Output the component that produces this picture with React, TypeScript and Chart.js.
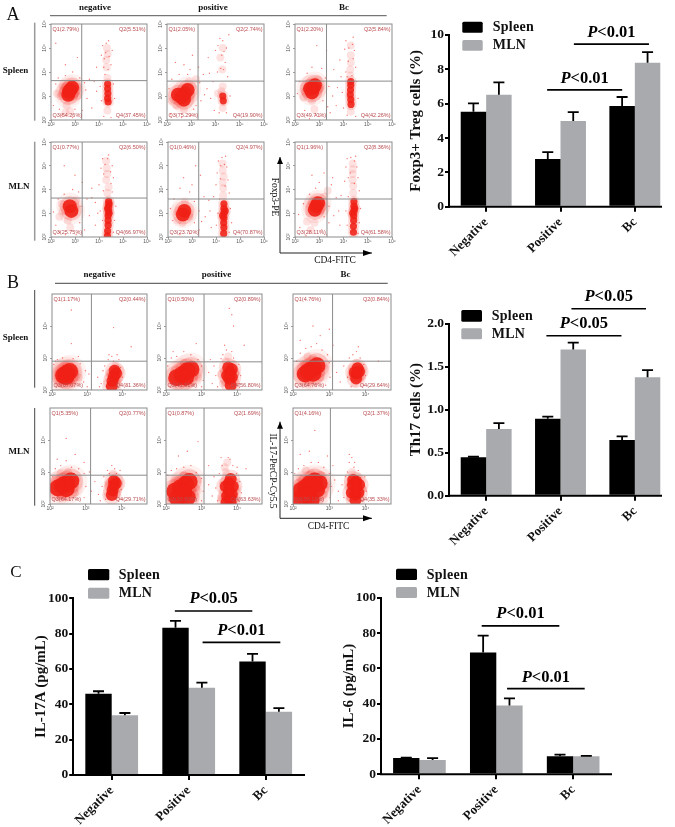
import React, { useEffect, useRef } from "react";
import { Chart, registerables } from "chart.js";
Chart.register(...registerables);

type P = [number, number];
const categories = ["Negative", "Positive", "Bc"];
const seriesNames = ["Spleen", "MLN"];

// ---- bar values and upper error caps
const tregSpleen = [5.53, 2.78, 5.86];
const tregSpleenCap = [6.02, 3.18, 6.39];
const tregMln = [6.52, 4.99, 8.39];
const tregMlnCap = [7.24, 5.51, 9.0];
const th17Spleen = [0.446, 0.895, 0.647];
const th17SpleenCap = [0.453, 0.92, 0.69];
const th17Mln = [0.775, 1.7, 1.376];
const th17MlnCap = [0.845, 1.78, 1.46];
const il17Spleen = [46, 83.4, 64.3];
const il17SpleenCap = [47.4, 87.2, 68.5];
const il17Mln = [33.8, 49.4, 35.8];
const il17MlnCap = [35.1, 52.3, 37.9];
const il6Spleen = [9.2, 68.9, 10.2];
const il6SpleenCap = [9.4, 78.5, 11.1];
const il6Mln = [8.1, 38.9, 10.2];
const il6MlnCap = [9.2, 43, 10.4];

// ---- significance brackets: category-index span, value of the line, value of the text baseline
const tregSig = [
  { p: "<0.01", from: 1.18, to: 2.19, y: 9.47, text: 9.9 },
  { p: "<0.01", from: 0.82, to: 1.83, y: 6.8, text: 7.22 },
];
const th17Sig = [
  { p: "<0.05", from: 1.147, to: 2.15, y: 2.174, text: 2.26 },
  { p: "<0.05", from: 0.81, to: 1.82, y: 1.86, text: 1.953 },
];
const il17Sig = [
  { p: "<0.05", from: 0.82, to: 1.826, y: 92.8, text: 97.1 },
  { p: "<0.01", from: 1.18, to: 2.19, y: 75.1, text: 79.2 },
];
const il6Sig = [
  { p: "<0.01", from: 0.81, to: 1.82, y: 84.1, text: 88.3 },
  { p: "<0.01", from: 1.14, to: 2.15, y: 48.5, text: 52.4 },
];

// ---- flow-cytometry quadrant percentages
const quadA = [
  ["Q1(2.79%)", "Q2(5.51%)", "Q3(54.26%)", "Q4(37.45%)"],
  ["Q1(2.05%)", "Q2(2.74%)", "Q3(75.29%)", "Q4(19.90%)"],
  ["Q1(2.20%)", "Q2(5.84%)", "Q3(49.70%)", "Q4(42.26%)"],
  ["Q1(0.77%)", "Q2(6.50%)", "Q3(25.75%)", "Q4(66.97%)"],
  ["Q1(0.46%)", "Q2(4.97%)", "Q3(23.70%)", "Q4(70.87%)"],
  ["Q1(1.96%)", "Q2(8.36%)", "Q3(28.11%)", "Q4(61.58%)"],
];
const quadB = [
  ["Q1(1.17%)", "Q2(0.44%)", "Q3(67.07%)", "Q4(31.36%)"],
  ["Q1(0.50%)", "Q2(0.89%)", "Q3(41.81%)", "Q4(56.80%)"],
  ["Q1(4.76%)", "Q2(0.84%)", "Q3(64.76%)", "Q4(29.64%)"],
  ["Q1(5.35%)", "Q2(0.77%)", "Q3(64.17%)", "Q4(29.71%)"],
  ["Q1(0.87%)", "Q2(1.69%)", "Q3(33.80%)", "Q4(63.63%)"],
  ["Q1(4.16%)", "Q2(1.37%)", "Q3(59.12%)", "Q4(35.33%)"],
];
// gate positions, log10 units [x, y]
const gatesA: P[] = [[3.28, 3.64], [3.28, 3.62], [3.3, 3.62], [3.3, 3.64], [3.28, 3.6], [3.32, 3.6]];
const gatesB: P[] = [[3.12, 2.9], [3.07, 2.88], [3.09, 2.9], [3.13, 2.9], [3.07, 2.9], [3.03, 2.9]];

// ---- events, log10 units: solid core, narrow column, soft haze, lone events
const a1Core: P[] = [[2.8, 3.25], [2.72, 3.05], [2.88, 3.35], [2.75, 3.18]];
const a1Band: P[] = [[4.36, 3.5], [4.36, 3.3], [4.37, 3.1], [4.36, 2.9], [4.38, 2.75]];
const a1Haze: P[] = [[2.4, 3.0], [2.65, 2.6], [3.1, 3.4], [2.5, 3.4], [2.8, 2.35], [4.35, 2.4], [4.35, 3.75], [4.3, 4.5], [4.33, 5.0], [3.1, 3.0], [2.25, 3.1], [4.32, 4.2], [4.36, 4.75], [2.6, 2.3]];
const a1Dots: P[] = [[2.1, 2.6], [2.2, 3.5], [2.3, 3.75], [2.45, 2.2], [2.6, 3.85], [2.9, 4.0], [3.2, 3.75], [3.4, 3.55], [3.6, 3.7], [3.8, 3.6], [3.9, 3.2], [3.5, 2.9], [3.7, 2.5], [3.3, 2.4], [2.9, 2.1], [2.6, 4.3], [2.2, 5.2], [3.1, 4.6], [3.9, 4.2], [4.1, 4.7], [4.2, 4.2], [4.15, 5.1], [4.5, 4.3], [4.55, 4.9], [4.4, 5.3], [4.25, 3.9], [4.6, 3.5], [4.1, 2.8], [4.65, 2.9], [4.5, 2.1], [4.2, 2.15], [4.28, 4.8], [4.38, 4.1], [4.42, 4.65], [4.22, 4.55], [4.3, 5.2], [3.0, 2.45], [2.35, 2.45], [3.45, 3.25], [4.05, 3.4]];
const a2Core: P[] = [[2.74, 3.1], [2.6, 2.95], [2.85, 3.25], [2.7, 2.85], [2.45, 3.05]];
const a2Band: P[] = [[4.3, 3.0], [4.32, 2.8]];
const a2Haze: P[] = [[2.3, 3.0], [3.05, 3.4], [2.7, 2.45], [2.4, 2.6], [3.2, 3.7], [4.3, 3.4], [4.3, 2.5], [4.2, 4.6], [4.25, 3.2], [2.9, 3.6], [2.2, 2.8], [4.1, 3.1], [4.28, 4.1], [4.3, 5.0]];
const a2Dots: P[] = [[2.08, 3.3], [2.2, 3.7], [2.5, 3.9], [2.7, 4.3], [2.95, 4.1], [3.3, 4.2], [3.5, 3.9], [3.65, 3.3], [3.4, 2.8], [3.8, 2.9], [3.9, 3.6], [3.2, 2.6], [3.0, 2.2], [2.6, 2.1], [3.05, 4.7], [2.35, 4.4], [3.7, 4.6], [4.0, 4.9], [4.1, 5.1], [4.3, 5.3], [4.35, 4.85], [4.22, 4.15], [4.4, 4.4], [4.45, 5.0], [4.55, 5.55], [4.5, 3.8], [4.6, 3.0], [4.45, 2.3], [4.15, 2.3], [3.95, 2.4], [4.08, 4.0], [4.26, 4.7], [4.33, 4.1], [3.55, 3.05], [3.35, 3.55], [3.1, 2.45], [2.15, 2.25], [2.85, 3.9], [4.18, 5.4], [3.75, 3.95]];
const a3Core: P[] = [[2.76, 3.35], [2.7, 3.15], [2.82, 3.45], [2.62, 3.3]];
const a3Band: P[] = [[4.3, 3.45], [4.29, 3.25], [4.28, 3.05], [4.3, 2.85], [4.31, 2.65], [4.3, 3.6]];
const a3Haze: P[] = [[2.4, 3.2], [2.7, 2.8], [3.0, 3.3], [2.8, 2.45], [2.95, 3.7], [4.3, 2.35], [4.28, 4.1], [4.3, 4.7], [4.3, 5.1], [2.35, 2.95], [4.3, 4.4], [4.28, 3.85]];
const a3Dots: P[] = [[2.1, 3.1], [2.2, 3.6], [2.4, 2.4], [2.5, 3.95], [2.7, 4.2], [3.1, 4.15], [3.25, 3.75], [3.4, 3.4], [3.55, 3.0], [3.7, 2.6], [3.45, 2.3], [3.15, 2.8], [3.0, 2.15], [2.6, 2.05], [3.6, 4.1], [3.85, 4.5], [3.9, 3.8], [3.95, 3.15], [4.0, 2.5], [4.05, 4.95], [4.1, 5.3], [4.2, 4.45], [4.4, 5.45], [4.45, 4.9], [4.5, 4.2], [4.55, 3.6], [4.6, 2.9], [4.5, 2.15], [4.15, 2.2], [4.4, 4.55], [4.22, 5.0], [4.37, 5.15], [4.35, 3.85], [4.15, 3.8], [3.3, 4.9], [2.9, 5.1], [2.85, 2.2], [3.75, 3.35], [3.35, 2.55], [4.1, 4.0]];
const a4Core: P[] = [[2.78, 3.3], [2.85, 3.1]];
const a4Band: P[] = [[4.4, 3.5], [4.4, 3.3], [4.4, 3.1], [4.38, 2.9], [4.38, 2.7], [4.38, 2.5], [4.36, 2.25], [4.42, 3.4], [4.42, 3.0], [4.36, 3.2], [4.35, 2.05]];
const a4Haze: P[] = [[2.5, 3.1], [2.7, 2.7], [3.0, 3.2], [2.45, 3.4], [2.8, 2.4], [3.05, 3.55], [2.35, 2.85], [4.35, 3.85], [4.3, 4.4], [4.32, 4.9], [4.3, 5.2], [4.4, 4.1], [4.34, 4.65]];
const a4Dots: P[] = [[2.1, 3.05], [2.2, 2.5], [2.3, 3.6], [2.55, 3.8], [2.9, 4.0], [3.15, 3.9], [3.25, 3.3], [3.5, 3.6], [3.7, 3.65], [3.85, 3.45], [3.6, 2.9], [3.85, 2.5], [3.4, 2.3], [3.05, 2.1], [2.6, 2.1], [2.55, 5.0], [3.0, 4.6], [3.3, 4.3], [3.7, 4.05], [4.0, 4.2], [4.08, 4.9], [4.15, 5.3], [4.4, 5.45], [4.55, 5.0], [4.6, 4.5], [4.2, 4.65], [4.48, 4.75], [4.55, 3.9], [4.7, 3.3], [4.65, 2.7], [4.6, 2.2], [4.15, 2.7], [4.05, 3.1], [4.5, 4.25], [4.18, 3.95], [4.36, 5.3], [3.2, 2.6], [3.95, 3.0], [4.25, 5.05], [2.35, 2.2]];
const a5Core: P[] = [[2.68, 3.1], [2.62, 2.95]];
const a5Band: P[] = [[4.33, 3.4], [4.33, 3.2], [4.33, 3.0], [4.33, 2.8], [4.32, 2.6], [4.33, 2.4], [4.32, 2.15], [4.38, 3.1], [4.28, 2.9]];
const a5Haze: P[] = [[2.45, 3.0], [2.8, 3.2], [2.6, 2.6], [2.9, 2.85], [2.4, 2.7], [2.7, 3.45], [4.3, 3.75], [4.28, 4.3], [4.28, 4.8], [4.27, 5.1], [4.32, 4.55], [4.3, 4.05]];
const a5Dots: P[] = [[2.1, 3.2], [2.2, 2.7], [2.25, 3.6], [2.5, 4.05], [2.9, 3.9], [3.1, 3.5], [3.1, 2.6], [3.3, 3.1], [3.5, 3.7], [3.7, 3.55], [3.9, 3.7], [3.55, 2.85], [3.8, 2.4], [3.3, 2.3], [2.9, 2.15], [2.5, 2.1], [2.65, 4.5], [3.0, 4.2], [3.35, 4.6], [3.15, 5.0], [4.0, 4.2], [4.05, 4.7], [4.1, 5.2], [4.18, 4.45], [4.4, 5.4], [4.45, 4.95], [4.5, 4.4], [4.55, 3.85], [4.6, 3.2], [4.65, 2.6], [4.55, 2.2], [4.08, 3.0], [4.02, 2.5], [4.15, 3.6], [4.25, 5.35], [4.35, 5.05], [4.38, 4.15], [4.2, 5.0], [3.75, 3.1], [3.4, 2.65]];
const a6Core: P[] = [[2.88, 3.3], [2.82, 3.15], [2.95, 3.42]];
const a6Band: P[] = [[4.43, 3.5], [4.43, 3.3], [4.43, 3.1], [4.42, 2.9], [4.42, 2.7], [4.41, 2.45], [4.41, 2.2], [4.46, 3.2], [4.38, 3.0]];
const a6Haze: P[] = [[2.6, 3.0], [2.8, 2.6], [3.1, 3.4], [2.5, 2.65], [2.65, 2.3], [3.2, 3.7], [3.05, 3.1], [4.4, 3.85], [4.38, 4.4], [4.38, 4.85], [4.38, 5.1], [3.35, 3.95], [4.4, 4.15], [4.38, 4.65]];
const a6Dots: P[] = [[2.15, 2.95], [2.2, 2.4], [2.35, 3.4], [2.45, 2.05], [2.6, 3.8], [2.85, 4.05], [3.0, 4.3], [3.1, 2.3], [3.2, 2.85], [3.4, 3.3], [3.5, 4.2], [3.7, 3.65], [3.9, 3.75], [3.6, 2.9], [3.85, 2.5], [3.3, 2.1], [3.2, 4.7], [2.7, 4.6], [3.55, 4.5], [4.05, 4.35], [4.1, 4.95], [4.15, 5.3], [4.2, 4.5], [4.5, 5.4], [4.55, 4.95], [4.6, 4.5], [4.65, 3.95], [4.7, 3.2], [4.65, 2.6], [4.6, 2.15], [4.1, 3.1], [4.15, 2.5], [4.2, 3.7], [4.3, 5.35], [4.45, 5.2], [4.45, 4.25], [4.28, 4.7], [3.8, 3.1], [3.4, 2.6], [2.95, 2.0]];

const b1Core: P[] = [[2.42, 2.52], [2.33, 2.45], [2.5, 2.58], [2.4, 2.42]];
const b1Band: P[] = [[3.78, 2.6], [3.76, 2.42], [3.72, 2.28], [3.82, 2.52], [3.7, 2.12]];
const b1Haze: P[] = [[2.2, 2.5], [2.65, 2.55], [2.4, 2.78], [2.55, 2.25], [2.2, 2.2], [3.65, 2.45], [3.8, 2.75], [2.75, 2.4], [3.85, 2.25]];
const b1Dots: P[] = [[2.05, 2.8], [2.15, 2.95], [2.3, 3.0], [2.6, 2.98], [2.8, 2.82], [2.95, 2.6], [2.9, 2.25], [3.0, 2.1], [3.05, 2.5], [3.3, 2.4], [3.45, 2.6], [3.4, 2.2], [3.5, 2.75], [3.6, 2.95], [3.7, 3.05], [3.75, 2.9], [3.85, 3.1], [3.62, 3.1], [3.95, 2.7], [4.0, 2.4], [4.1, 2.15], [3.55, 2.12], [2.55, 4.5], [3.75, 3.95], [2.55, 3.45], [4.25, 3.35], [2.1, 2.9], [2.75, 3.05], [3.35, 2.1], [3.9, 2.95]];
const b2Core: P[] = [[2.6, 2.6], [2.45, 2.48], [2.7, 2.65], [2.3, 2.38], [2.55, 2.4]];
const b2Band: P[] = [[3.8, 2.55], [3.78, 2.35], [3.82, 2.15], [3.72, 2.45], [3.85, 2.4], [3.75, 2.7], [3.85, 2.65]];
const b2Haze: P[] = [[2.15, 2.3], [2.8, 2.6], [2.5, 2.85], [2.9, 2.4], [2.7, 2.2], [3.55, 2.5], [3.68, 2.9], [3.75, 3.05], [3.95, 2.5], [3.6, 2.2]];
const b2Dots: P[] = [[2.05, 2.75], [2.15, 3.0], [2.3, 3.05], [2.5, 3.2], [2.7, 3.1], [2.9, 2.95], [3.0, 2.75], [3.05, 2.3], [3.0, 2.1], [3.2, 2.55], [3.3, 2.2], [3.35, 2.75], [3.4, 2.45], [3.45, 2.1], [3.55, 2.98], [3.6, 3.1], [3.7, 3.25], [3.85, 3.2], [3.9, 3.0], [4.05, 2.8], [4.1, 2.45], [4.05, 2.2], [3.78, 4.55], [3.85, 4.35], [3.9, 4.0], [2.85, 3.45], [4.2, 3.4], [3.65, 3.4], [3.25, 2.95], [2.2, 3.2]];
const b3Core: P[] = [[2.56, 2.68], [2.42, 2.58], [2.66, 2.76], [2.34, 2.5], [2.55, 2.52]];
const b3Band: P[] = [[3.78, 2.68], [3.76, 2.52], [3.74, 2.36], [3.82, 2.58], [3.7, 2.55]];
const b3Haze: P[] = [[2.2, 2.45], [2.85, 2.75], [2.55, 3.0], [2.75, 2.4], [2.3, 2.8], [2.4, 3.05], [3.65, 2.4], [3.75, 2.85], [3.7, 2.2], [3.85, 2.35]];
const b3Dots: P[] = [[2.08, 2.2], [2.1, 2.9], [2.2, 3.15], [2.35, 3.3], [2.5, 3.35], [2.65, 3.45], [2.8, 3.25], [2.95, 3.1], [3.0, 2.85], [3.02, 2.4], [2.9, 2.15], [3.2, 2.55], [3.3, 2.25], [3.4, 2.75], [3.5, 2.4], [3.55, 3.0], [3.65, 3.1], [3.75, 3.2], [3.85, 3.0], [3.95, 2.8], [4.0, 2.45], [3.95, 2.15], [2.55, 4.0], [3.0, 3.9], [2.2, 3.55], [2.75, 3.7], [3.1, 3.4], [3.6, 2.1], [3.8, 3.35], [4.35, 2.9]];
const b4Core: P[] = [[2.47, 2.65], [2.35, 2.58], [2.58, 2.72], [2.45, 2.48], [2.22, 2.5]];
const b4Band: P[] = [[3.78, 2.72], [3.78, 2.58], [3.74, 2.42], [3.72, 2.28], [3.83, 2.65]];
const b4Haze: P[] = [[2.1, 2.5], [2.75, 2.8], [2.5, 3.0], [2.7, 2.35], [2.3, 2.25], [2.3, 2.95], [3.6, 2.6], [3.75, 2.95], [3.85, 2.3], [3.6, 2.25]];
const b4Dots: P[] = [[2.08, 2.85], [2.15, 3.1], [2.3, 3.2], [2.45, 3.35], [2.6, 3.15], [2.8, 3.1], [2.95, 2.95], [3.0, 2.55], [2.95, 2.2], [3.15, 2.4], [3.25, 2.7], [3.35, 2.3], [3.45, 2.55], [3.5, 2.85], [3.6, 3.05], [3.72, 3.2], [3.8, 3.1], [3.92, 2.8], [3.98, 2.45], [4.0, 2.15], [2.45, 4.05], [2.7, 3.55], [3.4, 2.1], [3.55, 2.15], [2.2, 3.4], [3.85, 2.95], [3.65, 2.95], [3.1, 3.0], [3.95, 3.05], [2.95, 3.3]];
const b5Core: P[] = [[2.55, 2.62], [2.4, 2.5], [2.65, 2.7], [2.25, 2.4], [2.5, 2.35], [2.32, 2.18], [2.6, 2.2]];
const b5Band: P[] = [[3.77, 2.65], [3.77, 2.42], [3.8, 2.2], [3.68, 2.55], [3.88, 2.55], [3.72, 2.25], [3.85, 2.3], [3.82, 2.78], [3.7, 2.05], [3.82, 2.05]];
const b5Haze: P[] = [[2.85, 2.5], [2.8, 2.25], [2.5, 2.9], [2.25, 2.75], [3.6, 2.6], [3.68, 3.0], [3.65, 3.15], [3.72, 3.3], [3.55, 2.2], [4.0, 2.5], [2.9, 2.75]];
const b5Dots: P[] = [[2.05, 2.9], [2.15, 3.05], [2.3, 3.1], [2.5, 3.15], [2.7, 3.2], [2.85, 2.98], [3.0, 2.8], [3.05, 2.4], [3.0, 2.1], [3.2, 2.6], [3.3, 2.25], [3.35, 2.85], [3.4, 2.5], [3.45, 2.1], [3.5, 2.95], [3.58, 3.2], [3.8, 3.4], [3.88, 3.2], [3.98, 2.95], [4.08, 2.7], [4.12, 2.35], [4.05, 2.1], [2.9, 3.95], [2.35, 3.5], [2.6, 3.65], [3.2, 3.2], [3.55, 3.45], [4.25, 3.1], [3.75, 3.45], [4.0, 3.15]];
const b6Core: P[] = [[2.47, 2.65], [2.35, 2.52], [2.6, 2.72], [2.22, 2.42], [2.42, 2.3], [2.65, 2.45], [2.2, 2.15], [2.5, 2.12], [2.72, 2.65]];
const b6Band: P[] = [[3.74, 2.7], [3.74, 2.5], [3.72, 2.3], [3.65, 2.6], [3.82, 2.6], [3.62, 2.35], [3.8, 2.35], [3.72, 2.12], [3.66, 2.75]];
const b6Haze: P[] = [[2.9, 2.6], [2.85, 2.3], [2.5, 2.98], [2.2, 2.8], [2.78, 2.9], [3.55, 2.55], [3.62, 3.0], [3.58, 2.2], [3.92, 2.5], [2.35, 3.05]];
const b6Dots: P[] = [[2.05, 2.95], [2.15, 3.1], [2.3, 3.2], [2.5, 3.3], [2.7, 3.3], [2.85, 3.15], [3.0, 2.95], [3.05, 2.55], [3.02, 2.2], [3.15, 2.75], [3.25, 2.4], [3.35, 2.6], [3.4, 2.2], [3.45, 2.85], [3.5, 3.0], [3.55, 3.3], [3.62, 3.45], [3.7, 3.3], [3.8, 3.05], [3.98, 2.85], [4.02, 2.4], [3.95, 2.12], [2.6, 4.3], [2.95, 3.5], [2.2, 3.55], [3.55, 3.55], [3.25, 2.1], [3.68, 3.15], [3.1, 3.2], [2.45, 3.65]];

const coresA = [a1Core, a2Core, a3Core, a4Core, a5Core, a6Core];
const bandsA = [a1Band, a2Band, a3Band, a4Band, a5Band, a6Band];
const hazesA = [a1Haze, a2Haze, a3Haze, a4Haze, a5Haze, a6Haze];
const dotsA = [a1Dots, a2Dots, a3Dots, a4Dots, a5Dots, a6Dots];
const coresB = [b1Core, b2Core, b3Core, b4Core, b5Core, b6Core];
const bandsB = [b1Band, b2Band, b3Band, b4Band, b5Band, b6Band];
const hazesB = [b1Haze, b2Haze, b3Haze, b4Haze, b5Haze, b6Haze];
const dotsB = [b1Dots, b2Dots, b3Dots, b4Dots, b5Dots, b6Dots];
const decadesA = [2, 3, 4, 5, 6];
const decadesBx = [2, 3, 4];
const decadesBy = [2, 3, 4];

const SERIF = "'Liberation Serif'";
const SANS = "'Liberation Sans'";
const SUP: Record<number, string> = { 2: "10\u00b2", 3: "10\u00b3", 4: "10\u2074", 5: "10\u2075", 6: "10\u2076" };

function zeroPad(s: any) {
  s.paddingLeft = s.paddingRight = s.paddingTop = s.paddingBottom = 0;
}

function FrameChart({ make, box, blur }: { make: (c: HTMLCanvasElement) => Chart; box: number[]; blur?: number }) {
  const ref = useRef<HTMLCanvasElement>(null);
  useEffect(() => {
    const ch = make(ref.current!);
    return () => ch.destroy();
  }, []);
  return (
    <canvas
      ref={ref}
      width={box[2]}
      height={box[3]}
      style={{ position: "absolute", left: box[0], top: box[1], width: box[2], height: box[3], filter: blur ? `blur(${blur}px)` : undefined }}
    />
  );
}

function barConfig(o: any) {
  const { frame, area, spleen, spleenCap, mln, mlnCap, sig, yMax, step, title, titleX, axisEnd, legend, fmt } = o;
  const [fl, ft, fw, fh] = frame;
  const overlay = {
    id: "overlay",
    afterDatasetsDraw(chart: any) {
      const ctx = chart.ctx;
      const ys = chart.scales.y;
      const xs = chart.scales.x;
      ctx.save();
      ctx.strokeStyle = "#000";
      ctx.fillStyle = "#000";
      // error bars
      [spleenCap, mlnCap].forEach((caps: number[], d: number) => {
        chart.getDatasetMeta(d).data.forEach((bar: any, i: number) => {
          const y = ys.getPixelForValue(caps[i]);
          ctx.lineWidth = 1.8;
          ctx.beginPath();
          ctx.moveTo(bar.x, bar.y);
          ctx.lineTo(bar.x, y);
          ctx.moveTo(bar.x - 5.5, y);
          ctx.lineTo(bar.x + 5.5, y);
          ctx.stroke();
        });
      });
      // x axis line
      ctx.lineWidth = 2;
      ctx.beginPath();
      ctx.moveTo(chart.chartArea.left - 1, ys.getPixelForValue(0));
      ctx.lineTo(axisEnd - fl, ys.getPixelForValue(0));
      ctx.stroke();
      // brackets
      const unit = xs.getPixelForValue(1) - xs.getPixelForValue(0);
      const px = (v: number) => xs.getPixelForValue(0) + v * unit;
      sig.forEach((s: any) => {
        const y = ys.getPixelForValue(s.y);
        ctx.lineWidth = 1.7;
        ctx.beginPath();
        ctx.moveTo(px(s.from), y);
        ctx.lineTo(px(s.to), y);
        ctx.stroke();
        const it = `italic bold 16.5px ${SERIF}`;
        const bd = `bold 16.5px ${SERIF}`;
        ctx.font = it;
        const w1 = ctx.measureText("P").width;
        ctx.font = bd;
        const w2 = ctx.measureText(s.p).width;
        const cx = (px(s.from) + px(s.to)) / 2 - (w1 + w2) / 2;
        const ty = ys.getPixelForValue(s.text);
        ctx.textAlign = "left";
        ctx.textBaseline = "alphabetic";
        ctx.font = it;
        ctx.fillText("P", cx, ty);
        ctx.font = bd;
        ctx.fillText(s.p, cx + w1, ty);
      });
      // legend
      ctx.font = `bold 14px ${SERIF}`;
      (ctx as any).letterSpacing = "0.3px";
      ctx.textBaseline = "middle";
      chart.data.datasets.forEach((d: any, i: number) => {
        const [bx, by, bw, bh, tx, ty] = legend[i];
        ctx.fillStyle = d.backgroundColor;
        ctx.beginPath();
        ctx.roundRect(bx - fl, by - ft, bw, bh, 1.5);
        ctx.fill();
        ctx.fillStyle = "#111";
        ctx.fillText(d.label, tx - fl, ty - ft);
      });
      ctx.restore();
    },
  };
  return {
    type: "bar",
    data: {
      labels: categories,
      datasets: [
        { label: seriesNames[0], data: spleen, backgroundColor: "#000000", categoryPercentage: 0.685, barPercentage: 1 },
        { label: seriesNames[1], data: mln, backgroundColor: "#a9aaae", categoryPercentage: 0.685, barPercentage: 1 },
      ],
    },
    plugins: [overlay],
    options: {
      animation: false,
      responsive: false,
      devicePixelRatio: 1,
      layout: { padding: { left: 0, top: area[1] - ft, right: fl + fw - area[2], bottom: 0 } },
      plugins: { legend: { display: false }, tooltip: { enabled: false } },
      scales: {
        x: {
          grid: { display: true, drawOnChartArea: false, drawTicks: true, offset: false, tickLength: 5, lineWidth: 2, color: "#000" },
          border: { display: false },
          ticks: { color: "#111", maxRotation: 45, minRotation: 45, padding: 3, font: { family: SERIF, weight: "bold", size: 13 } },
          afterFit(s: any) {
            s.height = ft + fh - area[3];
            zeroPad(s);
          },
        },
        y: {
          min: 0,
          max: yMax,
          grid: { display: true, drawOnChartArea: false, drawTicks: true, tickLength: 4, lineWidth: 2, color: "#000" },
          border: { display: true, color: "#000", width: 2 },
          ticks: { stepSize: step, color: "#111", padding: 1, callback: fmt, font: { family: SERIF, weight: "bold", size: 13.5 } },
          title: { display: true, text: title, color: "#111", padding: { top: titleX - fl - 9, bottom: 0 }, font: { family: SERIF, weight: "bold", size: 15 } },
          afterFit(s: any) {
            s.width = area[0] - fl;
            zeroPad(s);
          },
        },
      },
    },
  } as any;
}

function dotConfig(o: any) {
  const { frame, plot, xMax, yMax, xTicks, yTicks, gate, core, band, haze, dots, quad, coreR, bandR } = o;
  const [fl, ft, fw, fh] = frame;
  const [pl, pt, pr, pb] = plot;
  const overlay = {
    id: "overlay",
    afterDatasetsDraw(chart: any) {
      const ctx = chart.ctx;
      const a = chart.chartArea;
      ctx.save();
      ctx.strokeStyle = "#8b8b8b";
      ctx.lineWidth = 1;
      ctx.strokeRect(a.left, a.top, a.right - a.left, a.bottom - a.top);
      ctx.fillStyle = "#b94a4e";
      ctx.font = `5.5px ${SANS}`;
      ctx.textBaseline = "middle";
      ctx.textAlign = "left";
      ctx.fillText(quad[0], a.left + 1.5, a.top + 5.5);
      ctx.fillText(quad[2], a.left + 1.5, a.bottom - 4.5);
      ctx.textAlign = "right";
      ctx.fillText(quad[1], a.right - 1.5, a.top + 5.5);
      ctx.fillText(quad[3], a.right - 1.5, a.bottom - 4.5);
      ctx.fillStyle = "#555";
      ctx.textAlign = "center";
      ctx.font = `5px ${SANS}`;
      chart.scales.y.ticks.forEach((t: any) => {
        const y = chart.scales.y.getPixelForValue(t.value);
        ctx.save();
        ctx.translate(a.left - 6, y);
        ctx.rotate(-Math.PI / 2);
        ctx.fillText(SUP[t.value], 0, 0);
        ctx.restore();
      });
      ctx.restore();
    },
  };
  const red = (al: number) => `rgba(240,32,22,${al})`;
  const pts = (d: P[]) => d.map(([x, y]) => ({ x, y }));
  return {
    type: "scatter",
    data: {
      datasets: [
        { label: "gate x", data: [{ x: gate[0], y: 2 }, { x: gate[0], y: yMax }], showLine: true, pointRadius: 0, borderColor: "#8b8b8b", borderWidth: 1 },
        { label: "gate y", data: [{ x: 2, y: gate[1] }, { x: xMax, y: gate[1] }], showLine: true, pointRadius: 0, borderColor: "#8b8b8b", borderWidth: 1 },
        { label: "dots", data: pts(dots), pointRadius: 0.7, backgroundColor: red(0.6), borderWidth: 0 },
        { label: "core", data: pts(core), pointRadius: coreR, backgroundColor: red(0.9), borderWidth: 0 },
        { label: "band", data: pts(band), pointRadius: bandR, backgroundColor: red(0.88), borderWidth: 0 },
        { label: "core glow", data: pts(core), pointRadius: coreR * 1.45, backgroundColor: red(0.16), borderWidth: 0 },
        { label: "band glow", data: pts(band), pointRadius: bandR * 1.6, backgroundColor: red(0.14), borderWidth: 0 },
        { label: "core wide", data: pts(core), pointRadius: coreR * 1.95, backgroundColor: red(0.06), borderWidth: 0 },
        { label: "haze", data: pts(haze), pointRadius: 4, backgroundColor: red(0.13), borderWidth: 0 },
      ],
    },
    plugins: [overlay],
    options: {
      animation: false,
      responsive: false,
      devicePixelRatio: 1,
      layout: { autoPadding: false, padding: { left: 0, top: pt - ft, right: fl + fw - pr, bottom: 0 } },
      plugins: { legend: { display: false }, tooltip: { enabled: false } },
      scales: {
        x: {
          type: "linear",
          min: 2,
          max: xMax,
          afterBuildTicks(s: any) {
            s.ticks = xTicks.map((v: number) => ({ value: v }));
          },
          grid: { display: true, drawOnChartArea: false, tickLength: 2, color: "#777", lineWidth: 0.7 },
          border: { display: false },
          ticks: { autoSkip: false, maxRotation: 0, minRotation: 0, padding: 0, color: "#555", font: { family: SANS, size: 5 }, callback: (v: number) => SUP[v] },
          afterFit(s: any) {
            s.height = ft + fh - pb;
            zeroPad(s);
          },
        },
        y: {
          type: "linear",
          min: 2,
          max: yMax,
          afterBuildTicks(s: any) {
            s.ticks = yTicks.map((v: number) => ({ value: v }));
          },
          grid: { display: true, drawOnChartArea: false, tickLength: 2, color: "#777", lineWidth: 0.7 },
          border: { display: false },
          ticks: { display: false },
          afterFit(s: any) {
            s.width = pl - fl;
            zeroPad(s);
          },
        },
      },
    },
  } as any;
}

const plotsA = [
  [51, 24, 147, 120], [167, 24, 264, 120], [295, 24, 392, 120],
  [51, 142, 147, 237], [168, 142, 264, 237], [295, 142, 392, 237],
];
const plotsB = [
  [52, 294, 147, 390], [166, 294, 262, 390], [293, 294, 391, 390],
  [50, 408, 147, 504], [166, 408, 262, 504], [293, 408, 391, 504],
];

const barSpecs = [
  { frame: [400, 10, 275, 255], area: [449, 35, 672, 206.7], spleen: tregSpleen, spleenCap: tregSpleenCap, mln: tregMln, mlnCap: tregMlnCap, sig: tregSig, yMax: 10, step: 2, title: "Foxp3+ Treg cells (%)", titleX: 416, axisEnd: 662, fmt: (v: number) => String(v),
    legend: [[462.3, 21.7, 20.4, 11, 492.7, 27.5], [462.3, 40, 20.4, 10.7, 492.7, 45.5]] },
  { frame: [400, 285, 275, 270], area: [449, 323.7, 672, 495.7], spleen: th17Spleen, spleenCap: th17SpleenCap, mln: th17Mln, mlnCap: th17MlnCap, sig: th17Sig, yMax: 2, step: 0.5, title: "Th17 cells (%)", titleX: 416, axisEnd: 662, fmt: (v: number) => v.toFixed(1),
    legend: [[461.3, 310, 20.7, 11.7, 491.7, 316], [461.3, 328.3, 20.7, 11, 491.7, 334]] },
  { frame: [0, 560, 320, 267], area: [73.2, 598.3, 304.2, 775], spleen: il17Spleen, spleenCap: il17SpleenCap, mln: il17Mln, mlnCap: il17MlnCap, sig: il17Sig, yMax: 100, step: 20, title: "IL-17A (pg/mL)", titleX: 40.7, axisEnd: 305, fmt: (v: number) => String(v),
    legend: [[88, 569, 21.3, 11.3, 118.7, 575], [88, 587.7, 21.3, 11, 118.7, 593]] },
  { frame: [330, 560, 300, 267], area: [381, 597.7, 611.6, 774.3], spleen: il6Spleen, spleenCap: il6SpleenCap, mln: il6Mln, mlnCap: il6MlnCap, sig: il6Sig, yMax: 100, step: 20, title: "IL-6 (pg/mL)", titleX: 349, axisEnd: 612, fmt: (v: number) => String(v),
    legend: [[396, 568.7, 21, 11.3, 426.7, 575], [396, 587, 21, 11, 426.7, 593]] },
];

const notes = [
  { t: "A", x: 13, y: 14, s: 18, w: 400 },
  { t: "B", x: 13, y: 282, s: 18, w: 400 },
  { t: "C", x: 16, y: 571, s: 17, w: 400 },
  { t: "negative", x: 95, y: 6.5, s: 9, w: 700 },
  { t: "positive", x: 213, y: 6.5, s: 9, w: 700 },
  { t: "Bc", x: 344, y: 6.5, s: 9, w: 700 },
  { t: "negative", x: 99.5, y: 274, s: 9, w: 700 },
  { t: "positive", x: 216.5, y: 274, s: 9, w: 700 },
  { t: "Bc", x: 345.5, y: 274, s: 9, w: 700 },
  { t: "Spleen", x: 15.5, y: 70, s: 9, w: 700 },
  { t: "MLN", x: 19, y: 185.5, s: 9, w: 700 },
  { t: "Spleen", x: 15.5, y: 337, s: 9, w: 700 },
  { t: "MLN", x: 19, y: 451, s: 9, w: 700 },
  { t: "CD4-FITC", x: 335, y: 260.5, s: 9.5, w: 400 },
  { t: "CD4-FITC", x: 328.5, y: 527, s: 9.5, w: 400 },
  { t: "Foxp3-PE", x: 274, y: 197, s: 9.5, w: 400, r: 90 },
  { t: "IL-17-PerCP-Cy5.5", x: 271.5, y: 471, s: 9.5, w: 400, r: 90 },
];

const rules = [
  [50, 15.7, 386.7, 15.7, "#555", 1],
  [55, 283.3, 387.7, 283.3, "#444", 1],
  [34.7, 22.7, 34.7, 120.7, "#999", 1.5],
  [34.7, 141.7, 34.7, 240.7, "#999", 1.5],
  [34.7, 290, 34.7, 387.7, "#444", 1],
  [34.7, 408, 34.7, 505.7, "#444", 1],
];
const arrows = [
  [280, 253, 280, 157],
  [280, 253, 372, 253],
  [280, 518.3, 280, 421.7],
  [280, 518.3, 372, 518.3],
];

export default function App() {
  return (
    <div style={{ position: "absolute", left: 0, top: 0, width: 675, height: 827, background: "#fff", overflow: "hidden" }}>
      {plotsA.map((p, i) => (
        <FrameChart
          key={"a" + i}
          blur={0.4}
          box={[p[0] - 16, p[1] - 4, p[2] - p[0] + 22, p[3] - p[1] + 16]}
          make={(c) =>
            new Chart(c, dotConfig({
              frame: [p[0] - 16, p[1] - 4, p[2] - p[0] + 22, p[3] - p[1] + 16], plot: p, xMax: 6, yMax: 6, xTicks: decadesA, yTicks: decadesA,
              gate: gatesA[i], core: coresA[i], band: bandsA[i], haze: hazesA[i], dots: dotsA[i], quad: quadA[i], coreR: 7, bandR: 3.6,
            }))
          }
        />
      ))}
      {plotsB.map((p, i) => (
        <FrameChart
          key={"b" + i}
          blur={0.4}
          box={[p[0] - 16, p[1] - 4, p[2] - p[0] + 22, p[3] - p[1] + 16]}
          make={(c) =>
            new Chart(c, dotConfig({
              frame: [p[0] - 16, p[1] - 4, p[2] - p[0] + 22, p[3] - p[1] + 16], plot: p, xMax: 4.7, yMax: 5, xTicks: decadesBx, yTicks: decadesBy,
              gate: gatesB[i], core: coresB[i], band: bandsB[i], haze: hazesB[i], dots: dotsB[i], quad: quadB[i], coreR: 8.5, bandR: 6,
            }))
          }
        />
      ))}
      {barSpecs.map((b, i) => (
        <FrameChart key={"bar" + i} blur={0.25} box={b.frame} make={(c) => new Chart(c, barConfig(b))} />
      ))}
      <svg width={675} height={827} style={{ position: "absolute", left: 0, top: 0, pointerEvents: "none" }}>
        {rules.map((r, i) => (
          <line key={i} x1={r[0] as number} y1={r[1] as number} x2={r[2] as number} y2={r[3] as number} stroke={r[4] as string} strokeWidth={r[5] as number} />
        ))}
        {arrows.map((a, i) => {
          const vertical = a[0] === a[2];
          const head = vertical
            ? `${a[2]},${a[3]} ${a[2] - 3},${a[3] + 7} ${a[2] + 3},${a[3] + 7}`
            : `${a[2]},${a[3]} ${a[2] - 9},${a[3] - 3} ${a[2] - 9},${a[3] + 3}`;
          return (
            <g key={i}>
              <line x1={a[0]} y1={a[1]} x2={a[2]} y2={a[3]} stroke="#222" strokeWidth={1} />
              <polygon points={head} fill="#000" />
            </g>
          );
        })}
      </svg>
      {notes.map((n, i) => (
        <div
          key={i}
          style={{
            position: "absolute",
            left: n.x,
            top: n.y,
            transform: `translate(-50%,-50%)${n.r ? ` rotate(${n.r}deg)` : ""}`,
            font: `${n.w} ${n.s}px ${SERIF}`,
            color: "#111",
            whiteSpace: "nowrap",
            lineHeight: 1,
          }}
        >
          {n.t}
        </div>
      ))}
    </div>
  );
}
